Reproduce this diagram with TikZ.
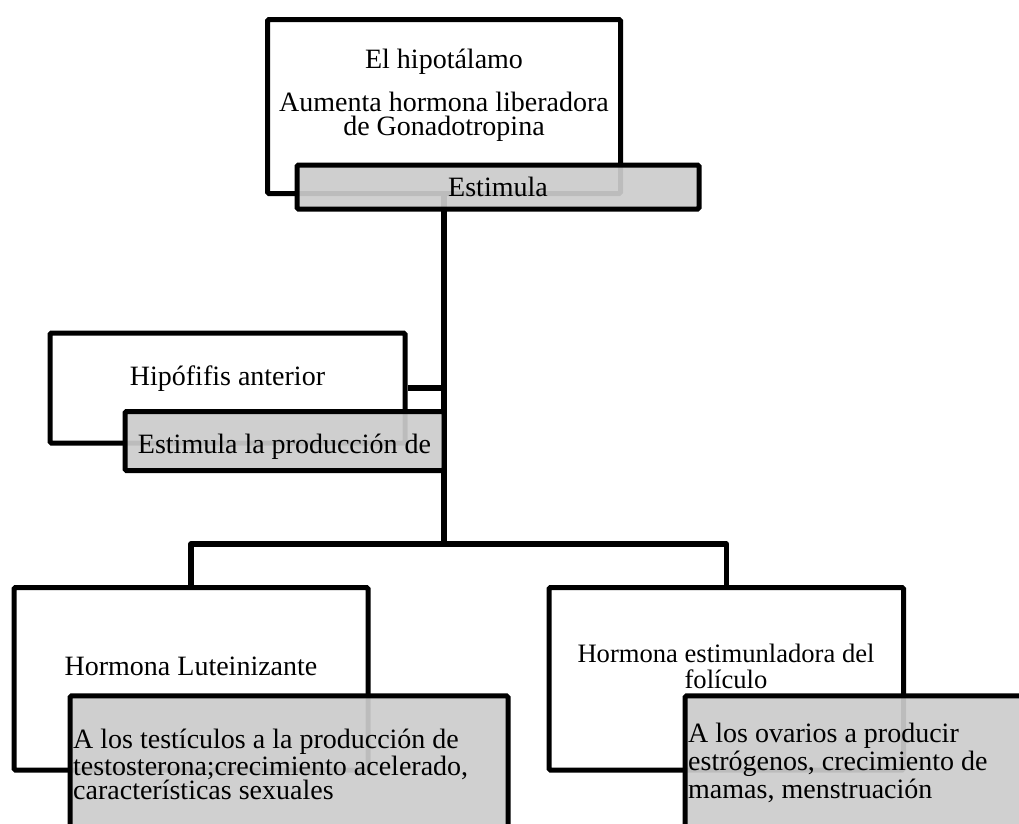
\documentclass[tikz,border=0pt]{standalone}
\usepackage{fontspec}
\setmainfont{Liberation Serif}
\definecolor{boxgray}{RGB}{204,204,204}

\begin{document}
\begin{tikzpicture}[x=1pt,y=-1pt,
  whitebox/.style={draw,line width=5pt,fill=white,rounded corners=1.5pt,inner sep=0pt},
  graybox/.style={draw,line width=5pt,fill=boxgray,fill opacity=0.925,rounded corners=1.5pt,inner sep=0pt},
  link/.style={line width=5.5pt,line join=round},
  txt/.style={inner sep=0pt,font=\fontsize{28}{24}\selectfont}]
  \clip (0,0) rectangle (1019,823);
  % level 1
  \node[whitebox,minimum width=353,minimum height=174] (hipot) at (444,106.5) {};
  \coordinate (fork) at (444,544);
  \draw[link] (hipot.south) -- (fork);
  \node[graybox,minimum width=402,minimum height=44] (estim) at (498,187) {};
  \node[txt,anchor=base] (hipottit) at (444,68) {El hipotálamo};
  \node[txt,anchor=base,align=center] (hipottxt) at (444,135) {Aumenta hormona liberadora\\de Gonadotropina};
  \node[txt,anchor=base] (estimtxt) at (498,196) {Estimula};
  % level 2
  \node[whitebox,minimum width=355,minimum height=110] (hipof) at (227.5,388) {};
  \draw[link] (hipof.east) -- (hipof.east -| fork);
  \node[graybox,minimum width=319,minimum height=59] (prod) at (284.5,441) {};
  \node[txt,anchor=base] (hipoftxt) at (227.5,385) {Hipófifis anterior};
  \node[txt,anchor=base] (prodtxt) at (284.5,453) {Estimula la producción de};
  % level 3
  \node[whitebox,minimum width=354,minimum height=182.5] (lh) at (191,678.75) {};
  \node[whitebox,minimum width=354.5,minimum height=182.5] (fsh) at (726.25,678.75) {};
  \draw[link] (fork) -| (lh.north);
  \draw[link] (fork) -| (fsh.north);
  \node[graybox,minimum width=438,minimum height=200,anchor=north west] (lhgray) at (67.5,693.3) {};
  \node[graybox,minimum width=400,minimum height=200,anchor=north west] (fshgray) at (682.5,693.3) {};
  \node[txt,anchor=base] (lhtit) at (191,675) {Hormona Luteinizante};
  \node[txt,anchor=base,align=center,font=\fontsize{26.6}{26.7}\selectfont] (fshtit) at (726,688.7) {Hormona estimunladora del\\folículo};
  \node[txt,anchor=base west,align=left] (lhtxt) at (73,799) {A los testículos a la producción de\\testosterona;crecimiento acelerado,\\características sexuales};
  \node[txt,anchor=base west,align=left,font=\fontsize{28}{28}\selectfont] (fshtxt) at (688,798) {A los ovarios a producir\\estrógenos, crecimiento de\\mamas, menstruación};
\end{tikzpicture}
\end{document}
